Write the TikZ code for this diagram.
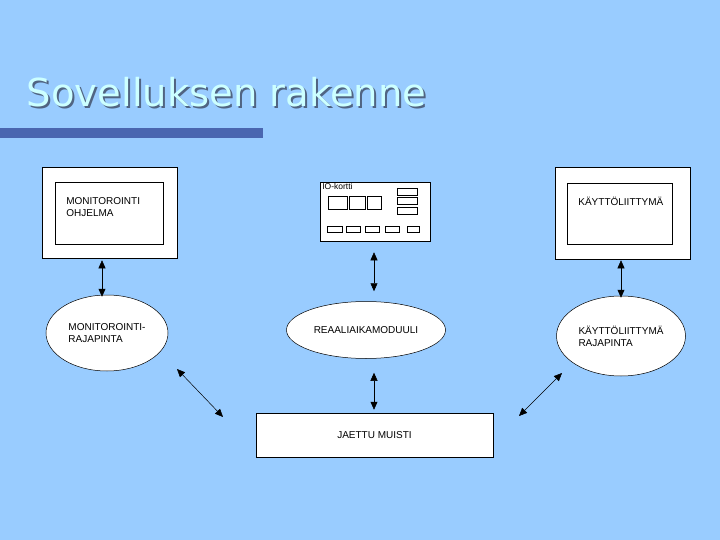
\documentclass[tikz,border=0pt]{standalone}
\usepackage{fontspec}
\setmainfont{Liberation Sans}
\newfontfamily\titlefont{DejaVu Sans}
\usetikzlibrary{shapes.geometric,arrows.meta}

\definecolor{slidebg}{RGB}{153,204,255}
\definecolor{titlecyan}{RGB}{204,255,255}
\definecolor{titleshade}{RGB}{80,100,130}
\definecolor{barblue}{RGB}{74,102,176}

\newcommand{\shadowtext}[1]{\rlap{\kern2pt\raisebox{-2pt}{\color{titleshade}#1}}#1}

\tikzset{every picture/.style={line width=0.75pt}}
\tikzset{
  boxtext/.style={font=\fontsize{10}{12}\selectfont, inner sep=0pt, align=left},
  whitebox/.style={draw, fill=white, line width=0.5pt, inner sep=0pt},
  framebox/.style={draw, line width=0.5pt, inner sep=0pt},
  iface/.style={ellipse, draw, fill=white, line width=0.5pt, inner sep=0pt,
    font=\fontsize{10}{12}\selectfont, align=left},
  dblarrow/.style={{Triangle[length=8pt,width=7pt]}-{Triangle[length=8pt,width=7pt]}, line width=0.5pt},
  iopart/.style={line width=0.5pt},
}

\begin{document}
\begin{tikzpicture}[x=1pt,y=1pt,yscale=-1,xscale=1]
    %Background
    \useasboundingbox (0,0) rectangle (720,540);
    \fill [slidebg] (0,0) rectangle (720,540);

    % Title
    \node (title) [anchor=base west, inner sep=0pt, text=titlecyan, font=\titlefont\fontsize{38.5}{40}\selectfont] at (26.5,107) {\shadowtext{Sovelluksen rakenne}};
    %Shape: Rectangle (title bar)
    \fill [barblue] (0,128) rectangle (263,138);

    %Shape: Monitor program
    \node (mon) [whitebox, minimum width=135pt, minimum height=91pt] at (109.5,213) {};
    \node (moninner) [framebox, minimum width=108pt, minimum height=62pt] at (109,213.5) {};
    % Text Node
    \node (montext) [boxtext, anchor=north west] at (66,197) {MONITOROINTI\\OHJELMA};

    %Shape: IO card
    \node (io) [whitebox, minimum width=110pt, minimum height=59pt] at (375,212) {};
    % Text Node
    \node (iotext) [anchor=north west, inner sep=0pt, font=\fontsize{8.5}{9}\selectfont] at (322,182.5) {IO-kortti};
    \draw [iopart] (328,196) rectangle (347,209) (349,196) rectangle (365,209) (367,196) rectangle (381,209);
    \draw [iopart] (397,188) rectangle (417,195) (397,197) rectangle (417,204) (397,207) rectangle (417,214);
    \foreach \xa/\xb in {327/342,346/360,365/379,385/399,407/419}
      \draw [iopart] (\xa,226) rectangle (\xb,232);

    %Shape: User interface
    \node (ui) [whitebox, minimum width=135pt, minimum height=92pt] at (622.5,213) {};
    \node (uiinner) [framebox, minimum width=105pt, minimum height=61pt] at (619.5,213.5) {};
    % Text Node
    \node (uitext) [boxtext, anchor=north west] at (578,197) {KÄYTTÖLIITTYMÄ};

    %Shape: Ellipses
    \node (monif) [iface, minimum width=122pt, minimum height=76pt] at (107,333) {MONITOROINTI-\\RAJAPINTA};
    \node (rt) [iface, minimum width=159pt, minimum height=57pt] at (366,330) {REAALIAIKAMODUULI};
    \node (uiif) [iface, minimum width=129pt, minimum height=80pt] at (621,336) {KÄYTTÖLIITTYMÄ\\RAJAPINTA};

    %Shape: Shared memory
    \node (mem) [whitebox, minimum width=237pt, minimum height=44pt, font=\fontsize{10}{12}\selectfont] at (374.5,435) {JAETTU MUISTI};

    %Straight Lines
    \coordinate (dla) at (177,369);
    \coordinate (dlb) at (223,417);
    \coordinate (dra) at (562,373);
    \coordinate (drb) at (519,416);

    \draw [dblarrow, shorten <=1.5pt, shorten >=-2pt] ([xshift=-7.5pt]mon.south) -- ([xshift=-5pt]monif.north);
    \draw [dblarrow, shorten <=10.5pt, shorten >=10pt] ([xshift=-1pt]io.south) -- ([xshift=8pt]rt.north);
    \draw [dblarrow, shorten <=1pt, shorten >=-2pt] ([xshift=-1.5pt]ui.south) -- (uiif.north);
    \draw [dblarrow, shorten <=14pt, shorten >=3pt] ([xshift=8pt]rt.south) -- ([xshift=-0.5pt]mem.north);
    \draw [dblarrow] (dla) -- (dlb);
    \draw [dblarrow] (dra) -- (drb);

\end{tikzpicture}
\end{document}
